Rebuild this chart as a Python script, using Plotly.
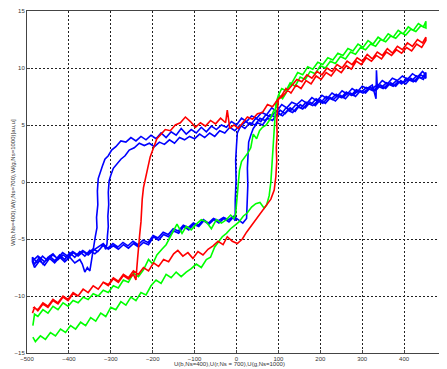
import plotly.graph_objects as go

# ---- data (x = U field, y = W) ----
BLUE_UP_1 = [(-486,-6.9),(-474,-6.5),(-462,-7.2),(-450,-6.6),(-438,-6.3),(-426,-6.8),(-414,-6.4),(-402,-6.7),(-390,-6.2),(-378,-6.5),(-366,-6.1),(-354,-6.4),(-342,-6.0),(-330,-5.7),(-318,-5.4),(-306,-5.9),(-294,-5.6),(-282,-5.9),(-270,-5.5),(-258,-5.8),(-246,-5.4),(-234,-5.7),(-222,-5.3),(-210,-5.5),(-198,-4.8),(-186,-5.1),(-174,-4.6),(-162,-4.8),(-150,-4.3),(-138,-4.5),(-126,-3.9),(-114,-4.2),(-102,-3.7),(-90,-3.9),(-78,-3.4),(-66,-3.7),(-54,-3.3),(-42,-3.6),(-30,-3.2),(-18,-3.5),(-8,-3.1),(-3,-3.4),(-3,-1.6),(-1,0.2),(-2,1.9),(0,3.2),(2,4.3),(10,4.9),(22,5.3),(34,5.0),(46,5.6),(58,5.3),(70,5.9),(82,5.7),(94,6.2),(106,5.9),(118,6.5),(130,6.3),(142,6.8),(154,6.5),(166,7.0),(178,6.8),(190,7.3),(202,7.0),(214,7.5),(226,7.3),(238,7.7),(250,7.4),(262,7.9),(274,7.6),(286,8.1),(298,7.9),(310,8.3),(322,8.1),(334,8.5),(346,8.3),(358,8.7),(370,8.5),(382,8.9),(394,8.6),(406,9.1),(418,8.9),(430,9.3),(442,9.1),(452,9.6)]
BLUE_DN_1 = [(452,9.4),(444,9.7),(432,9.2),(420,9.5),(408,9.0),(396,9.3),(384,8.9),(372,9.1),(360,8.6),(348,8.9),(336,8.4),(334,9.8),(333,7.3),(324,8.5),(312,8.2),(300,8.4),(288,7.9),(276,8.2),(264,7.7),(252,8.0),(240,7.5),(228,7.8),(216,7.3),(204,7.6),(192,7.1),(180,7.4),(168,6.9),(156,7.2),(144,6.8),(132,7.0),(120,6.5),(108,6.8),(96,6.2),(84,6.5),(72,5.9),(60,6.1),(48,5.6),(36,5.8),(24,5.3),(12,5.6),(0,5.0),(-12,5.3),(-24,4.8),(-36,5.0),(-48,4.6),(-60,4.9),(-72,4.4),(-84,4.8),(-96,4.3),(-108,4.6),(-120,4.2),(-132,4.7),(-144,4.1),(-156,4.4),(-168,3.9),(-180,4.3),(-192,3.8),(-204,4.1),(-216,3.7),(-228,4.0),(-240,3.6),(-252,3.9),(-264,3.5),(-276,3.6),(-288,3.1),(-298,2.8),(-306,2.3),(-314,2.0),(-320,1.4),(-325,0.9),(-330,0.3),(-332,-0.8),(-331,-2.0),(-334,-3.1),(-333,-4.0),(-337,-4.8),(-340,-5.6),(-344,-6.2),(-347,-7.0),(-350,-7.8),(-356,-7.5),(-362,-7.9),(-368,-7.2),(-374,-6.8),(-386,-7.1),(-398,-6.6),(-410,-7.0),(-422,-6.6),(-434,-7.1),(-446,-6.7),(-458,-7.3),(-470,-6.9),(-482,-7.5),(-487,-7.0)]
BLUE_UP_2 = [(-487,-6.6),(-475,-7.1),(-463,-6.5),(-451,-6.9),(-439,-6.4),(-427,-6.7),(-415,-6.2),(-403,-6.5),(-391,-6.1),(-379,-6.4),(-367,-6.0),(-355,-6.3),(-343,-5.9),(-331,-6.1),(-319,-5.6),(-307,-5.8),(-295,-5.4),(-283,-5.7),(-271,-5.3),(-259,-5.6),(-247,-5.2),(-235,-5.5),(-223,-5.1),(-211,-5.3),(-199,-4.7),(-187,-4.9),(-175,-4.4),(-163,-4.6),(-151,-4.1),(-139,-4.3),(-127,-3.8),(-115,-4.0),(-103,-3.6),(-91,-3.8),(-79,-3.3),(-67,-3.6),(-55,-3.2),(-43,-3.4),(-31,-3.1),(-19,-3.3),(-7,-3.0),(5,-3.3),(15,-3.6),(24,-3.2),(26,-1.8),(27,-0.3),(26,1.2),(28,2.5),(29,3.5),(34,4.1),(40,4.7),(50,5.2),(62,5.0),(74,5.6),(86,5.4),(98,6.0),(110,5.8),(122,6.3),(134,6.1),(146,6.6),(158,6.4),(170,6.9),(182,6.7),(194,7.1),(206,6.9),(218,7.4),(230,7.2),(242,7.6),(254,7.4),(266,7.8),(278,7.6),(290,8.0),(302,7.8),(314,8.2),(326,8.0),(338,8.4),(350,8.2),(362,8.6),(374,8.4),(386,8.8),(398,8.7),(410,9.0),(422,8.8),(434,9.2),(446,9.0),(452,9.5)]
BLUE_DN_2 = [(452,9.1),(440,9.4),(428,8.8),(416,9.1),(404,8.6),(392,8.9),(380,8.4),(368,8.7),(356,8.2),(344,8.5),(332,8.0),(320,8.3),(308,7.8),(296,8.0),(284,7.5),(272,7.8),(260,7.3),(248,7.6),(236,7.1),(224,7.4),(212,6.9),(200,7.2),(188,6.7),(176,7.0),(164,6.5),(152,6.8),(140,6.2),(128,6.5),(116,6.0),(104,6.3),(92,5.7),(80,5.9),(68,5.4),(56,5.6),(44,5.0),(32,5.2),(20,4.7),(8,5.0),(-4,4.5),(-16,4.8),(-28,4.3),(-40,4.5),(-52,4.0),(-64,4.3),(-76,3.9),(-88,4.2),(-100,3.8),(-112,4.0),(-124,3.7),(-136,3.9),(-148,3.4),(-160,3.7),(-172,3.3),(-184,3.5),(-196,3.1),(-208,3.4),(-220,3.2),(-232,3.4),(-244,3.0),(-256,2.8),(-266,2.3),(-276,2.0),(-286,1.6),(-294,1.2),(-300,0.6),(-304,0.1),(-306,-0.9),(-305,-2.0),(-307,-3.0),(-306,-3.9),(-308,-4.7),(-309,-5.4),(-312,-5.9),(-318,-5.5),(-326,-5.9),(-338,-6.3),(-350,-6.0),(-362,-6.5),(-374,-6.1),(-386,-6.6),(-398,-6.2),(-410,-6.8),(-422,-6.4),(-434,-6.9),(-446,-6.5),(-458,-7.0),(-470,-6.6),(-482,-7.2),(-487,-6.8)]

RED_UP = [(-487,-11.5),(-482,-11.0),(-474,-11.3),(-462,-10.7),(-450,-11.0),(-438,-10.4),(-426,-10.7),(-414,-10.1),(-402,-10.4),(-390,-9.8),(-378,-10.0),(-366,-9.4),(-354,-9.7),(-342,-9.1),(-330,-9.4),(-318,-8.8),(-306,-9.0),(-294,-8.4),(-282,-8.7),(-270,-8.1),(-258,-8.4),(-246,-7.8),(-234,-8.1),(-222,-7.5),(-210,-7.8),(-198,-7.1),(-186,-7.4),(-174,-6.8),(-162,-7.0),(-150,-6.3),(-140,-6.0),(-128,-6.5),(-116,-6.2),(-104,-6.7),(-92,-6.1),(-80,-6.4),(-68,-5.9),(-56,-5.6),(-44,-5.2),(-32,-5.5),(-22,-4.8),(-10,-5.2),(2,-5.4),(14,-5.0),(24,-4.4),(34,-3.9),(44,-3.4),(54,-2.8),(64,-2.3),(72,-1.9),(82,-1.5),(90,-0.7),(94,0.5),(96,1.8),(95,3.0),(97,4.2),(96,5.3),(98,6.4),(100,7.3),(108,7.6),(118,8.2),(130,7.8),(142,8.5),(154,8.2),(166,8.9),(178,8.6),(190,9.3),(202,9.0),(214,9.6),(226,9.3),(238,9.9),(250,9.6),(262,10.2),(274,9.9),(286,10.6),(298,10.3),(310,10.9),(322,10.6),(334,11.1),(346,10.8),(358,11.4),(370,11.1),(382,11.6),(394,11.3),(406,11.8),(418,11.5),(430,12.1),(442,11.8),(452,12.4)]
RED_DN = [(452,12.7),(444,12.2),(432,12.5),(420,11.9),(408,12.2),(396,11.6),(384,11.9),(372,11.3),(360,11.7),(348,11.1),(336,11.4),(324,10.8),(312,11.2),(300,10.6),(288,10.9),(276,10.3),(264,10.6),(252,10.0),(240,10.3),(228,9.7),(216,10.0),(204,9.4),(192,9.7),(180,9.1),(168,9.4),(156,8.8),(144,9.0),(132,8.5),(120,8.0),(110,7.5),(98,7.2),(86,6.6),(74,6.8),(62,6.1),(50,6.0),(38,5.5),(26,5.7),(14,5.1),(4,4.7),(-6,5.0),(-16,4.7),(-22,6.3),(-26,5.2),(-38,5.6),(-50,5.1),(-62,5.4),(-74,4.9),(-86,5.2),(-98,4.8),(-110,5.3),(-122,5.7),(-134,5.2),(-146,5.0),(-158,4.5),(-170,4.6),(-180,4.2),(-190,3.8),(-198,3.0),(-206,2.2),(-212,1.2),(-217,0.3),(-222,-0.5),(-225,-1.5),(-226,-2.4),(-228,-3.5),(-231,-4.6),(-234,-5.6),(-236,-6.7),(-238,-7.6),(-240,-8.6),(-246,-8.1),(-258,-8.5),(-270,-8.2),(-282,-8.8),(-294,-8.5),(-306,-9.1),(-318,-8.8),(-330,-9.4),(-342,-9.1),(-354,-9.7),(-366,-9.4),(-378,-10.0),(-390,-9.7),(-402,-10.3),(-414,-10.0),(-426,-10.6),(-438,-10.3),(-450,-10.9),(-462,-10.6),(-474,-11.2),(-486,-11.0)]

GREEN_UP = [(-486,-13.6),(-480,-14.0),(-468,-13.5),(-456,-13.8),(-444,-13.2),(-432,-13.5),(-420,-12.9),(-408,-13.2),(-396,-12.6),(-384,-12.9),(-372,-12.3),(-360,-12.6),(-348,-11.9),(-336,-12.2),(-324,-11.5),(-312,-11.8),(-300,-11.0),(-288,-11.2),(-276,-10.5),(-264,-10.8),(-252,-10.1),(-240,-10.4),(-228,-9.7),(-216,-9.9),(-204,-9.1),(-192,-8.6),(-180,-8.9),(-168,-8.1),(-156,-8.4),(-144,-7.9),(-132,-8.3),(-120,-7.9),(-108,-7.6),(-96,-7.2),(-84,-7.5),(-72,-6.8),(-62,-6.6),(-52,-5.7),(-44,-5.3),(-34,-4.8),(-24,-4.5),(-14,-4.1),(-4,-3.8),(6,-3.5),(16,-3.0),(26,-2.7),(36,-2.2),(46,-1.9),(56,-1.8),(66,-2.3),(72,-2.0),(78,-1.2),(82,0.0),(84,1.2),(86,2.4),(88,3.8),(90,5.0),(91,6.1),(94,6.9),(100,7.6),(108,8.2),(118,8.0),(128,8.7),(140,8.4),(152,9.2),(164,9.0),(176,9.7),(188,9.5),(200,10.2),(212,10.0),(224,10.6),(236,10.4),(248,11.0),(260,10.8),(272,11.4),(284,11.2),(296,11.8),(308,11.6),(320,12.1),(332,11.9),(344,12.5),(356,12.3),(368,12.8),(380,12.6),(392,13.1),(404,12.9),(416,13.4),(428,13.2),(440,13.7),(452,13.5)]
GREEN_DN = [(452,14.1),(446,13.6),(434,13.9),(422,13.3),(410,13.6),(398,13.0),(386,13.3),(374,12.7),(362,13.0),(350,12.4),(338,12.7),(326,12.1),(314,12.4),(302,11.8),(290,12.1),(278,11.5),(266,11.7),(254,11.1),(242,11.3),(230,10.7),(218,10.9),(206,10.3),(194,10.5),(182,9.9),(170,10.1),(158,9.4),(146,9.6),(134,8.8),(124,8.3),(118,7.8),(110,7.3),(102,7.6),(96,6.6),(88,6.2),(80,5.5),(71,5.0),(62,4.8),(55,4.5),(48,3.8),(40,4.2),(34,3.0),(28,2.6),(20,2.2),(12,1.8),(7,1.0),(4,-0.2),(2,-0.8),(0,-1.9),(-2,-2.8),(-6,-3.2),(-14,-2.9),(-24,-3.3),(-36,-3.6),(-48,-3.3),(-60,-4.1),(-72,-3.5),(-84,-3.3),(-96,-3.7),(-108,-4.2),(-120,-3.9),(-130,-4.5),(-142,-3.7),(-152,-4.4),(-160,-5.0),(-168,-5.5),(-178,-5.9),(-190,-6.4),(-200,-7.2),(-210,-6.8),(-222,-7.7),(-234,-8.3),(-246,-8.0),(-258,-8.8),(-270,-8.6),(-282,-9.3),(-294,-9.1),(-306,-9.7),(-318,-9.5),(-330,-10.0),(-342,-9.8),(-354,-10.3),(-366,-10.1),(-378,-10.6),(-390,-10.4),(-402,-10.9),(-414,-10.6),(-426,-11.2),(-438,-10.9),(-450,-11.5),(-462,-11.2),(-474,-11.8),(-482,-11.6),(-486,-12.6)]

X_TICKS = [-500, -400, -300, -200, -100, 0, 100, 200, 300, 400, 500]
Y_TICKS = [-15, -10, -5, 0, 5, 10, 15]
X_TITLE = "U(b,Ns=400),U(r,Ns = 700),U(g,Ns=1000)"
Y_TITLE = "W(b,Ns=400),W(r,Ns=700),W(g,Ns=1000)[au,u]"

SERIES = [
    ("blue", "#0000FF", BLUE_UP_1 + BLUE_DN_1 + BLUE_UP_2 + BLUE_DN_2),
    ("green", "#00FF00", GREEN_UP + GREEN_DN),
    ("red", "#FF0000", RED_UP + RED_DN),
]

fig = go.Figure()
for name, color, pts in SERIES:
    fig.add_trace(go.Scatter(
        x=[p[0] for p in pts], y=[p[1] for p in pts], mode="lines",
        line=dict(color=color, width=1.6), name=name,
        showlegend=False, hoverinfo="skip"))

FONT = dict(family="Liberation Sans, Arial", size=6, color="#333")
axis_common = dict(
    showgrid=True, gridcolor="#222", gridwidth=1, griddash="2px,2px",
    zeroline=False, showline=True, linecolor="#444", linewidth=1,
    ticks="inside", ticklen=3, tickcolor="#444", tickfont=FONT,
)
fig.update_xaxes(range=[-500, 500], tickvals=X_TICKS, mirror=True, **axis_common)
fig.update_yaxes(range=[-15, 15], tickvals=Y_TICKS, **axis_common)

# page body has an 8px margin: plot area spans page px x 27..446, y 11..353
fig.update_layout(
    width=439, height=361,
    margin=dict(l=19, r=1, t=3, b=16),
    paper_bgcolor="white", plot_bgcolor="white",
    annotations=[
        dict(text=X_TITLE, xref="paper", yref="paper",
             x=(229 - 27) / 419, y=-(364 - 353) / 342,
             xanchor="center", yanchor="middle", showarrow=False, font=FONT),
        dict(text=Y_TITLE, xref="paper", yref="paper", textangle=-90,
             x=-(27 - 13) / 419, y=(353 - 183) / 342,
             xanchor="center", yanchor="middle", showarrow=False, font=FONT),
    ],
)

fig.write_html("out.html")
